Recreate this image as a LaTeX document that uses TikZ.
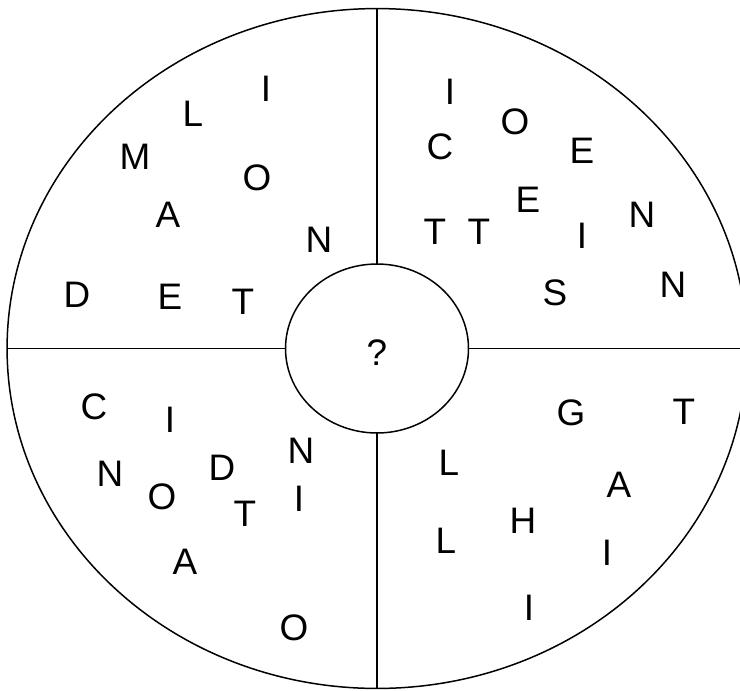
\documentclass[tikz,border=0pt]{standalone}
\usepackage{fontspec}
\setmainfont{Liberation Sans}
\usetikzlibrary{shapes.geometric}
\tikzset{
	letter/.style = {font = \fontsize{21}{25}\selectfont, inner sep = 0pt},
	ring/.style = {draw, ellipse, inner sep = 0pt, outer sep = 0pt}
}
\begin{document}
\begin{tikzpicture}[x = 0.02cm, y = -0.02cm, line width = 0.85pt]
\useasboundingbox (0,0) rectangle (740,690);
\clip (0,0) rectangle (740,690);
\node[ring, minimum width = 14.8cm, minimum height = 13.6cm] (outer) at (377,348.5) {};
\node[ring, minimum width = 3.66cm, minimum height = 3.38cm] (hub) at (377,348.5) {};
\coordinate (east) at (740,348.5);
\draw (outer.north) -- (hub.north);
\draw (hub.south) -- (outer.south);
\draw (outer.west) -- (hub.west);
\draw (hub.east) -- (east);
\node[letter] (qmark) at (377,353) {?};
\foreach \ch/\x/\y [count = \i] in {
	I/266/89, L/193/114, M/135/157, O/257/178, A/168/215,
	N/319/240, D/77/295, E/170/297, T/243/302,
	I/450/92, O/515/122, C/440/147, E/582/151, E/528/200,
	N/642/215, T/435/232, T/479/232, I/582/236, S/555/293, N/673/285,
	C/94/407, I/170/420, N/301/451, N/110/474, D/222/468,
	O/162/497, T/245/514, I/299/499, A/185/562, O/294/628,
	G/571/413, T/684/412, L/449/463, A/619/485, H/523/521,
	L/446/541, I/607/553, I/529/608}
{
	\node[letter] (let\i) at (\x,\y) {\ch};
}
\end{tikzpicture}
\end{document}
